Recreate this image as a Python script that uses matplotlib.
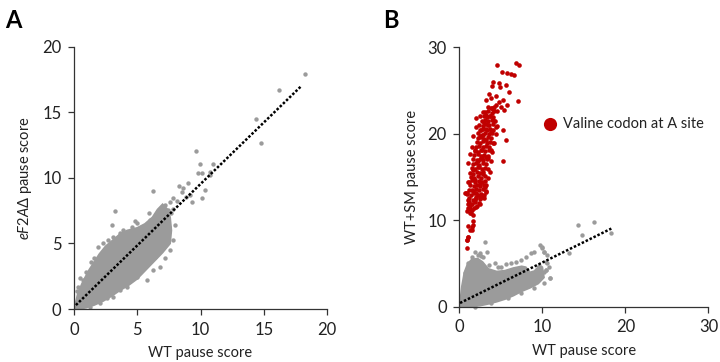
import matplotlib
matplotlib.use("Agg")
import matplotlib.pyplot as plt

plt.rcParams['font.family'] = ['Lato', 'DejaVu Sans']
plt.rcParams['mathtext.fontset'] = 'custom'
plt.rcParams['mathtext.it'] = 'Lato:italic'
plt.rcParams['mathtext.rm'] = 'Lato'

GRAY = '#9b9b9b'
RED = '#c00000'

# ---------------- Panel A data ----------------
# dense core outline (upper edge then lower edge back)
a_core_x = [0.05, 0.3, 0.7, 1.2, 2.0, 2.5, 3.0, 3.6, 4.2, 5.0, 5.6, 6.2, 6.6, 7.0, 7.4, 7.6,
            7.7, 7.6, 7.0, 6.3, 5.5, 5.0, 4.3, 3.6, 3.0, 2.3, 1.6, 1.0, 0.4, 0.1]
a_core_y = [0.15, 1.2, 2.1, 3.0, 4.2, 4.8, 5.2, 5.7, 6.0, 6.2, 6.5, 7.0, 7.6, 8.0, 7.6, 7.0,
            6.0, 5.0, 4.3, 3.6, 2.8, 2.3, 1.8, 1.4, 1.0, 0.6, 0.3, 0.1, 0.0, 0.0]
# individual points (edges and outliers)
a_pts_x = [18.29, 16.18, 14.36, 14.76, 9.64, 9.93, 10.96, 9.78, 10.15, 10.75, 10.75, 10.36, 10.1,
           6.27, 8.33, 8.64, 8.51, 9.04, 9.17, 9.3, 8.83, 7.85, 8.12, 7.59, 7.19, 7.46, 6.67, 6.93,
           7.64, 7.85, 7.06, 7.19, 6.8, 6.67, 6.4, 7.54,
           3.24, 3.03, 1.32, 1.92, 2.32, 2.98, 3.11, 3.64, 3.9, 4.56, 4.96, 5.35, 6.0, 6.4,
           0.95, 0.74, 0.34, 1.26, 2.06, 2.58, 3.11, 3.64, 4.17, 4.43, 4.96, 5.22, 5.75, 6.27,
           6.8, 7.19, 7.33, 7.59, 7.8, 8.0, 0.2, 0.5, 1.6, 2.7, 4.8, 5.9]
a_pts_y = [17.96, 16.74, 14.48, 12.7, 12.04, 11.09, 11.09, 10.38, 10.38, 10.48, 10.23, 9.08, 8.45,
           8.98, 9.39, 9.21, 8.95, 9.64, 8.7, 8.19, 8.57, 8.45, 8.27, 8.19, 7.94, 7.56, 7.43, 6.92,
           7.3, 7.6, 6.03, 5.52, 5.01, 4.5, 4.0, 6.28,
           7.48, 6.41, 3.61, 4.76, 5.01, 5.01, 5.52, 5.78, 6.03, 6.28, 6.54, 6.23, 6.79, 7.05,
           2.85, 2.21, 1.7, 0.18, 0.44, 0.82, 0.94, 1.45, 1.7, 2.21, 2.47, 2.85, 2.21, 2.98,
           3.23, 3.87, 5.01, 4.5, 5.3, 6.4, 1.4, 2.4, 3.9, 5.3, 6.7, 7.3]
a_fit_x = [0.15, 18.0]
a_fit_y = [0.3, 17.05]

# ---------------- Panel B data ----------------
b_core_x = [0.05, 0.3, 0.6, 1.0, 1.5, 2.2, 2.8, 3.5, 4.5, 5.5, 6.5, 7.5, 8.0, 8.5, 9.2, 9.6, 10.0, 10.2,
            9.5, 8.5, 7.5, 6.5, 5.5, 4.5, 3.5, 2.5, 1.5, 0.5, 0.1]
b_core_y = [0.3, 2.4, 4.0, 5.0, 5.5, 5.6, 5.2, 4.4, 4.1, 4.2, 4.5, 4.7, 4.6, 4.0, 4.2, 4.9, 4.6, 3.4,
            2.7, 2.2, 1.8, 1.3, 0.9, 0.6, 0.35, 0.15, 0.05, 0.0, 0.0]
b_pts_x = [3.13, 3.33, 1.86, 2.46, 2.85, 1.47, 1.07, 0.68, 4.24, 5.04, 5.63, 6.22, 6.82, 7.41, 8.0,
           8.6, 8.99, 9.7, 9.98, 10.18, 10.57, 10.38, 10.97, 9.19, 9.58, 8.79,
           1.86, 3.85, 5.82, 7.41, 8.99, 10.18,
           14.34, 16.2, 14.77, 18.29, 13.15, 10.97, 9.98, 10.18, 10.57, 10.38, 10.77, 10.18, 10.38,
           2.2, 2.6, 3.6, 4.6]
b_pts_y = [7.46, 6.38, 6.38, 6.19, 5.8, 5.8, 5.04, 3.89, 5.04, 4.65, 4.96, 5.04, 5.23, 5.42, 5.8,
           6.19, 6.38, 7.15, 6.77, 6.38, 5.04, 4.27, 3.31, 4.27, 3.69, 3.11,
           0.03, 0.43, 1.0, 1.58, 2.16, 2.73,
           9.46, 9.77, 8.3, 8.5, 6.19, 3.31, 6.96, 6.38, 6.0, 5.23, 4.65, 4.07, 4.27,
           6.0, 5.9, 4.9, 4.6]
b_fit_x = [0.08, 18.3]
b_fit_y = [0.46, 9.05]

# valine codon points (WT score, WT+SM score)
v_x = [4.56, 6.81, 7.21, 5.15, 5.7, 6.22, 6.61, 4.04, 3.92, 4.75, 4.91, 5.62, 5.94, 7.01,
       3.56, 3.25, 3.84, 4.44, 4.83, 5.23, 5.7, 5.43, 5.03, 4.44, 4.04,
       2.85, 2.46, 2.06, 3.17, 3.64, 4.04,
       2.06, 2.65, 3.25, 3.84, 4.44, 5.23, 5.62, 5.31, 3.25, 2.46,
       1.67, 1.47, 1.27, 1.86, 2.65, 3.25, 3.84, 4.04,
       1.07, 1.67, 2.26, 2.85, 1.86, 2.46, 3.05, 1.47, 2.06, 2.65, 0.87, 0.68,
       1.07, 1.47, 2.06, 2.46, 1.27, 1.67,
       1.07, 1.47, 1.67, 0.87, 1.07,
       0.95, 0.87, 1.07, 1.34, 1.58, 1.66, 0.87, 1.26, 1.46, 0.79, 1.86, 3.24, 3.24, 2.65, 2.06,
       2.3, 2.7, 3.0, 3.4, 3.9, 4.2, 1.2, 1.0, 3.5, 3.7, 2.9,
       1.02, 1.33, 1.71, 2.12, 1.14, 1.52, 1.93, 2.38, 1.22, 1.63, 2.04, 2.47, 2.93,
       0.98, 1.41, 1.82, 2.19, 2.63, 3.02, 1.18, 1.6, 2.03, 2.41, 2.84, 3.2,
       1.29, 1.72, 2.1, 2.52, 2.91, 1.08, 1.49, 1.91, 2.32, 2.7, 3.12,
       1.38, 1.79, 2.21, 2.6, 3.03, 3.42, 1.27, 1.68, 2.11, 2.52, 2.9,
       1.5, 1.92, 2.31, 2.7, 3.12, 3.5, 1.62, 2.0, 2.41, 2.83, 3.22,
       1.7, 2.12, 2.52, 2.9, 3.31, 3.78, 1.81, 2.2, 2.61, 3.0, 3.42,
       1.92, 2.3, 2.72, 3.1, 3.52, 3.92, 2.02, 2.41, 2.8, 3.21, 3.6,
       2.1, 2.52, 2.9, 3.32, 3.71, 4.18, 2.22, 2.6, 3.02, 3.41, 3.8,
       2.3, 2.71, 3.1, 3.52, 3.9, 4.38, 2.48, 2.9, 3.3, 3.7, 4.1,
       2.42, 2.81, 3.22, 3.6, 4.02, 4.58, 2.7, 3.1, 3.5, 3.9, 4.3,
       2.92, 3.3, 3.72, 4.1, 3.1, 3.5, 3.9, 4.5, 3.4, 3.8, 4.2]
v_y = [27.9, 28.2, 27.9, 27.1, 27.0, 26.9, 26.8, 26.0, 25.5, 25.9, 25.4, 25.6, 24.8, 23.8,
       24.6, 23.9, 24.1, 24.3, 23.7, 23.9, 23.3, 22.7, 23.1, 23.3, 22.9,
       22.5, 22.0, 21.8, 22.2, 22.0, 21.6,
       20.8, 20.4, 20.6, 20.2, 20.8, 20.4, 19.3, 16.8, 19.3, 19.7,
       19.7, 18.5, 17.7, 18.1, 18.1, 17.3, 18.1, 18.9,
       16.6, 15.8, 16.2, 15.4, 14.6, 14.2, 13.9, 13.5, 13.1, 12.7, 13.1, 13.1,
       11.9, 11.2, 11.5, 11.9, 10.8, 10.6,
       9.3, 8.9, 9.5, 7.7, 8.1,
       6.8, 7.75, 8.05, 8.9, 9.28, 9.97, 11.1, 11.3, 10.8, 13.2, 12.35, 13.3, 14.1, 12.7, 12.7,
       16.9, 17.2, 21.2, 21.0, 23.0, 22.6, 14.4, 12.3, 17.2, 15.6, 19.9,
       11.4, 11.62, 11.45, 11.7, 12.1, 11.92, 12.15, 11.98, 12.55, 12.4, 12.62, 12.45, 12.58,
       13.05, 12.9, 13.12, 12.95, 13.08, 12.88, 13.55, 13.42, 13.6, 13.47, 13.63, 13.4,
       14.08, 13.92, 14.1, 13.97, 14.12, 14.45, 14.6, 14.42, 14.58, 14.4, 14.55,
       15.05, 14.9, 15.1, 14.94, 15.08, 14.92, 15.52, 15.4, 15.6, 15.45, 15.58,
       16.05, 15.9, 16.1, 15.95, 16.08, 15.92, 16.48, 16.6, 16.42, 16.57, 16.45,
       17.05, 16.92, 17.1, 16.95, 17.08, 16.9, 17.5, 17.62, 17.44, 17.58, 17.46,
       18.05, 17.9, 18.1, 17.95, 18.08, 17.92, 18.48, 18.6, 18.42, 18.57, 18.45,
       19.05, 18.92, 19.1, 18.95, 19.08, 18.9, 19.5, 19.62, 19.44, 19.58, 19.46,
       20.05, 19.9, 20.1, 19.95, 20.08, 19.92, 20.48, 20.6, 20.42, 20.57, 20.45,
       21.05, 20.92, 21.1, 20.95, 21.08, 20.9, 21.5, 21.62, 21.44, 21.58, 21.46,
       22.05, 21.9, 22.1, 21.95, 22.5, 22.62, 22.44, 22.58, 23.05, 22.92, 23.1]

legend_label = "Valine codon at A site"

fig = plt.figure(figsize=(7.2, 3.62), dpi=100)
axA = fig.add_axes([0.1028, 0.1464, 0.3514, 0.7238])
axB = fig.add_axes([0.638, 0.152, 0.346, 0.718])

MS = 10

def style(ax, lim, ticks):
    ax.set_xlim(0, lim)
    ax.set_ylim(0, lim)
    ax.set_xticks(ticks)
    ax.set_yticks(ticks)
    for s in ['top', 'right']:
        ax.spines[s].set_visible(False)
    for s in ['left', 'bottom']:
        ax.spines[s].set_color('#333333')
        ax.spines[s].set_linewidth(0.9)
    ax.tick_params(direction='out', length=4, width=0.9, color='#333333',
                   labelsize=12, labelcolor='#222222', pad=5)
    ax.set_xlabel('WT pause score', fontsize=10.5, color='#222222', labelpad=6)

# Panel A
axA.fill(a_core_x, a_core_y, color=GRAY, lw=1.2, ec=GRAY, zorder=2)
axA.scatter(a_pts_x, a_pts_y, s=MS, color=GRAY, lw=0, zorder=2, clip_on=False)
axA.plot(a_fit_x, a_fit_y, color='black', lw=1.8, linestyle=(0, (1, 0.75)), zorder=3)
style(axA, 20, [0, 5, 10, 15, 20])
axA.set_ylabel(r'$\mathit{eF2A\Delta}$ pause score', fontsize=10.5, color='#222222', labelpad=6)

# Panel B
axB.fill(b_core_x, b_core_y, color=GRAY, lw=1.2, ec=GRAY, zorder=2)
axB.scatter(b_pts_x, b_pts_y, s=MS, color=GRAY, lw=0, zorder=2, clip_on=False)
axB.scatter(v_x, v_y, s=MS + 1, color=RED, lw=0, zorder=2, label=legend_label)
axB.plot(b_fit_x, b_fit_y, color='black', lw=1.8, linestyle=(0, (1, 0.75)), zorder=3)
style(axB, 30, [0, 10, 20, 30])
axB.set_ylabel('WT+SM pause score', fontsize=10.5, color='#222222', labelpad=6)
axB.scatter([10.9], [21.1], s=90, color=RED, lw=0)
axB.text(12.5, 21.1, legend_label, fontsize=10.5, color='#222222', va='center', ha='left')

fig.text(0.007, 0.975, 'A', fontsize=17, fontweight='bold', va='top', ha='left')
fig.text(0.532, 0.975, 'B', fontsize=17, fontweight='bold', va='top', ha='left')

fig.savefig('out.png', dpi=100)
